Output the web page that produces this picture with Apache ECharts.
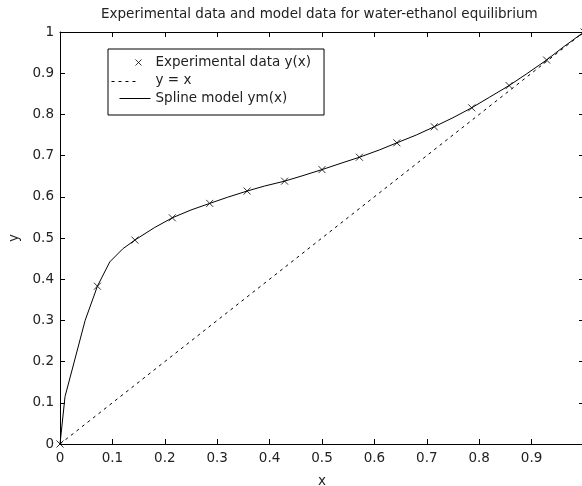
<!DOCTYPE html>
<html>
<head>
<meta charset="utf-8">
<script src="https://cdn.jsdelivr.net/npm/echarts@6/dist/echarts.min.js"></script>
<style>
  html, body { margin: 0; padding: 0; background: #fff; }
  #chart { width: 582px; height: 486px; }
</style>
</head>
<body>
<div id="chart"></div>
<script>
// Measured vapour-liquid equilibrium points (liquid mole fraction x, vapour y)
var expX = [0, 0.0714, 0.1429, 0.2143, 0.2857, 0.3571, 0.4286, 0.5, 0.5714, 0.6429, 0.7143, 0.7857, 0.8571, 0.9286, 1];
var expY = [0, 0.383, 0.495, 0.549, 0.584, 0.614, 0.638, 0.666, 0.696, 0.731, 0.770, 0.816, 0.870, 0.932, 1];

// Spline model ym(x) sampled along the curve
var modelX = [0, 0.0096, 0.048, 0.0714, 0.095, 0.12, 0.1429, 0.18, 0.2143, 0.25, 0.2857, 0.32, 0.3571, 0.39, 0.4286, 0.46, 0.5, 0.54, 0.5714, 0.61, 0.6429, 0.68, 0.7143, 0.75, 0.7857, 0.82, 0.8571, 0.89, 0.9286, 0.96, 1];
var modelY = [0, 0.115, 0.300, 0.383, 0.442, 0.474, 0.495, 0.525, 0.549, 0.568, 0.584, 0.599, 0.614, 0.626, 0.638, 0.650, 0.666, 0.683, 0.696, 0.714, 0.731, 0.750, 0.770, 0.792, 0.816, 0.842, 0.870, 0.898, 0.932, 0.963, 1];

// Reference diagonal y = x
var diagX = [0, 1];
var diagY = [0, 1];

// Axis ticks
var xTicks = [0, 0.1, 0.2, 0.3, 0.4, 0.5, 0.6, 0.7, 0.8, 0.9, 1];
var yTicks = [0, 0.1, 0.2, 0.3, 0.4, 0.5, 0.6, 0.7, 0.8, 0.9, 1];

function pairs(xs, ys) {
  return xs.map(function (x, i) { return [x, ys[i]]; });
}
function fmt(v) {
  return String(Math.round(v * 10) / 10);
}

var FONT = '"DejaVu Sans", "Liberation Sans", Arial, sans-serif';
var FS = 13.5;
var INK = '#222';

// x-shaped marker drawn as two crossing strokes
var crossPath = 'path://M0,0L10,10M10,0L0,10';
// legend samples laid out inside a 40x14 key box
var keyCross = 'path://M0,0M40,14M25,4L31,10M31,4L25,10';
var keyDash = 'path://M0,0M40,14M1,8L4,8M8,8L11,8M15,8L18,8M22,8L25,8';
var keySolid = 'path://M0,0M40,14M9,7L40,7';

var axisCommon = {
  type: 'value',
  min: 0,
  max: 1,
  interval: 0.1,
  splitLine: { show: false },
  axisLine: { show: true, onZero: false, lineStyle: { color: '#000', width: 1 } },
  axisTick: { show: true, inside: true, length: 5, lineStyle: { color: '#000', width: 1 } }
};

var chart = echarts.init(document.getElementById('chart'), null, { renderer: 'canvas' });
chart.setOption({
  animation: false,
  backgroundColor: '#fff',
  textStyle: { fontFamily: FONT, color: INK },
  title: {
    text: 'Experimental data and model data for water-ethanol equilibrium',
    left: 101,
    top: 7,
    padding: 0,
    textStyle: { fontFamily: FONT, fontSize: FS, fontWeight: 'normal', color: INK }
  },
  grid: { left: 60, right: -2, top: 32, bottom: 42, containLabel: false, outerBoundsMode: 'none' },
  xAxis: [
    Object.assign({}, axisCommon, {
      position: 'bottom',
      name: 'x',
      nameLocation: 'middle',
      nameGap: 30,
      nameTextStyle: { fontFamily: FONT, fontSize: FS, color: INK },
      axisLabel: {
        margin: 7, fontFamily: FONT, fontSize: FS, color: INK,
        formatter: function (v) { return v >= 1 ? '' : fmt(v); }
      }
    }),
    Object.assign({}, axisCommon, {
      position: 'top',
      axisLabel: { show: false }
    })
  ],
  yAxis: [
    Object.assign({}, axisCommon, {
      position: 'left',
      name: 'y',
      nameLocation: 'middle',
      nameGap: 37,
      nameTextStyle: { fontFamily: FONT, fontSize: FS, color: INK },
      axisLabel: {
        margin: 6, fontFamily: FONT, fontSize: FS, color: INK,
        formatter: function (v) { return fmt(v); }
      }
    }),
    Object.assign({}, axisCommon, {
      position: 'right',
      axisLabel: { show: false }
    })
  ],
  legend: {
    orient: 'vertical',
    left: 108,
    top: 49,
    padding: [4, 13, 7, 0],
    itemWidth: 40,
    itemHeight: 14,
    itemGap: -1,
    symbolKeepAspect: false,
    backgroundColor: '#fff',
    borderColor: '#000',
    borderWidth: 1,
    borderRadius: 0,
    itemStyle: { color: 'none', borderColor: '#000', borderWidth: 1 },
    textStyle: { fontFamily: FONT, fontSize: FS, color: INK, padding: [0, 0, 0, 0] },
    data: [
      { name: 'Experimental data y(x)', icon: keyCross },
      { name: 'y = x', icon: keyDash },
      { name: 'Spline model ym(x)', icon: keySolid }
    ]
  },
  series: [
    {
      name: 'Experimental data y(x)',
      type: 'scatter',
      data: pairs(expX, expY),
      symbol: crossPath,
      symbolSize: 7,
      itemStyle: { color: 'none', borderColor: '#000', borderWidth: 1 },
      z: 3
    },
    {
      name: 'y = x',
      type: 'line',
      data: pairs(diagX, diagY),
      symbol: 'none',
      itemStyle: { color: '#000' },
      lineStyle: { color: '#000', width: 1, type: [3, 4] },
      z: 2
    },
    {
      name: 'Spline model ym(x)',
      type: 'line',
      data: pairs(modelX, modelY),
      symbol: 'none',
      smooth: false,
      itemStyle: { color: '#000' },
      lineStyle: { color: '#000', width: 1 },
      z: 2
    }
  ]
});
</script>
</body>
</html>
